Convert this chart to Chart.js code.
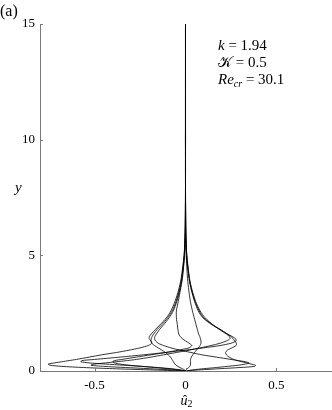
<!DOCTYPE html>
<html>
<head>
<meta charset="utf-8">
<script src="https://cdn.jsdelivr.net/npm/chart.js@4.4.1/dist/chart.umd.min.js"></script>
<style>
  html, body { margin: 0; padding: 0; background: #fff; }
  #wrap { width: 332px; height: 410px; }
</style>
</head>
<body>
<div id="wrap"><canvas id="profileChart"></canvas></div>
<script>
// wall-normal positions shared by every profile
const yLevels = [0, 0.05, 0.1, 0.15, 0.2, 0.25, 0.3, 0.35, 0.4, 0.45, 0.5, 0.6, 0.7, 0.8, 0.9, 1.0,
  1.1, 1.2, 1.3, 1.4, 1.5, 1.6, 1.8, 2.0, 2.3, 2.6, 3.0, 3.5, 4.0, 5.0, 6.0, 8, 15];

// u2 profiles (one value per y level)
const profileA = [0, -0.2, -0.4, -0.56, -0.68, -0.745, -0.755, -0.72, -0.68, -0.64, -0.6, -0.53, -0.46, -0.38, -0.31, -0.25,
  -0.205, -0.185, -0.19, -0.2, -0.198, -0.188, -0.165, -0.14, -0.105, -0.08, -0.058, -0.038, -0.024, -0.008, -0.002, 0, 0];
const profileB = [0, -0.005, -0.018, -0.03, -0.042, -0.052, -0.058, -0.063, -0.067, -0.07, -0.074, -0.082, -0.095, -0.11, -0.13, -0.15,
  -0.17, -0.185, -0.19, -0.188, -0.183, -0.175, -0.155, -0.13, -0.098, -0.073, -0.052, -0.034, -0.021, -0.007, -0.002, 0, 0];
const profileC = [0, 0.04, 0.1, 0.17, 0.23, 0.29, 0.33, 0.35, 0.33, 0.29, 0.25, 0.17, 0.09, 0.03, -0.03, -0.08,
  -0.12, -0.15, -0.165, -0.17, -0.168, -0.16, -0.142, -0.12, -0.09, -0.067, -0.048, -0.031, -0.019, -0.006, -0.001, 0, 0];
const profileD = [0, -0.03, -0.08, -0.15, -0.24, -0.34, -0.44, -0.53, -0.575, -0.57, -0.5, -0.36, -0.23, -0.11, 0.0, 0.1,
  0.19, 0.25, 0.278, 0.275, 0.255, 0.23, 0.19, 0.15, 0.1, 0.075, 0.053, 0.034, 0.021, 0.007, 0.002, 0, 0];
const profileE = [0, -0.08, -0.2, -0.33, -0.45, -0.52, -0.5, -0.44, -0.38, -0.32, -0.27, -0.19, -0.12, -0.05, 0.02, 0.08,
  0.14, 0.19, 0.225, 0.245, 0.24, 0.225, 0.185, 0.15, 0.108, 0.08, 0.056, 0.036, 0.022, 0.007, 0.002, 0, 0];
const profileF = [0, 0.08, 0.19, 0.3, 0.38, 0.385, 0.36, 0.335, 0.31, 0.285, 0.265, 0.24, 0.225, 0.22, 0.23, 0.255,
  0.278, 0.28, 0.27, 0.262, 0.248, 0.23, 0.19, 0.145, 0.095, 0.07, 0.05, 0.032, 0.019, 0.006, 0.001, 0, 0];
const profileG = [0, -0.04, -0.1, -0.17, -0.24, -0.31, -0.36, -0.39, -0.4, -0.39, -0.35, -0.27, -0.19, -0.11, -0.04, 0.02,
  0.035, 0.02, 0.0, -0.018, -0.03, -0.037, -0.042, -0.045, -0.05, -0.05, -0.04, -0.028, -0.017, -0.005, -0.001, 0, 0];
const profileH = [0, 0.004, 0.01, 0.018, 0.023, 0.027, 0.028, 0.028, 0.027, 0.027, 0.028, 0.032, 0.04, 0.05, 0.06, 0.07,
  0.08, 0.085, 0.085, 0.082, 0.078, 0.072, 0.065, 0.058, 0.048, 0.038, 0.027, 0.018, 0.011, 0.004, 0.001, 0, 0];

const profiles = [profileA, profileB, profileC, profileD, profileE, profileF, profileG, profileH];

const xTicks = [-0.5, 0, 0.5];
const yTicks = [0, 5, 10, 15];

const serif = '"Liberation Serif", "DejaVu Serif", serif';
const axisColor = '#7a7a7a';

// small inward ticks, panel label, axis titles and parameter text
const extras = {
  id: 'extras',
  afterDraw(chart) {
    const ctx = chart.ctx;
    const xs = chart.scales.x;
    const ys = chart.scales.y;
    const area = chart.chartArea;
    ctx.save();
    ctx.strokeStyle = axisColor;
    ctx.lineWidth = 1;
    xTicks.forEach(v => {
      const px = Math.round(xs.getPixelForValue(v)) + 0.5;
      ctx.beginPath();
      ctx.moveTo(px, area.bottom);
      ctx.lineTo(px, area.bottom - 3);
      ctx.stroke();
    });
    yTicks.forEach(v => {
      const py = Math.round(ys.getPixelForValue(v)) + 0.5;
      ctx.beginPath();
      ctx.moveTo(area.left, py);
      ctx.lineTo(area.left + 3, py);
      ctx.stroke();
    });

    ctx.fillStyle = '#000';
    ctx.textBaseline = 'alphabetic';
    ctx.textAlign = 'left';

    // writes a run of pieces one after the other
    const run = (x, y, pieces) => {
      pieces.forEach(p => {
        ctx.font = p.font;
        ctx.fillText(p.text, x, y + (p.dy || 0));
        x += ctx.measureText(p.text).width;
      });
    };

    run(0, 16, [{ text: '(a)', font: '16px ' + serif }]);

    const it = 'italic 15px ' + serif;
    const up = '15px ' + serif;
    const sub = 'italic 10px ' + serif;
    run(218, 50, [{ text: 'k', font: it }, { text: ' = 1.94', font: up }]);
    run(218, 67, [{ text: '\u{1D4A6}', font: up }, { text: ' = 0.5', font: up }]);
    run(218, 84, [{ text: 'Re', font: it }, { text: 'cr', font: sub, dy: 3 }, { text: ' = 30.1', font: up }]);

    run(15, 192, [{ text: 'y', font: 'italic 15px ' + serif }]);

    // u with a hat and subscript 2
    const cx = xs.getPixelForValue(0) - 5;
    ctx.font = 'italic 14px ' + serif;
    const uw = ctx.measureText('u').width;
    ctx.fillText('u', cx, 405);
    ctx.font = '13px ' + serif;
    ctx.textAlign = 'center';
    ctx.fillText('\u02C6', cx + uw / 2 + 1, 404);
    ctx.textAlign = 'left';
    ctx.font = '10px ' + serif;
    ctx.fillText('2', cx + uw, 407);
    ctx.restore();
  }
};

const datasets = profiles.map(xs => ({
  data: yLevels.map((y, i) => ({ x: xs[i], y: y })),
  showLine: true,
  borderColor: '#000',
  borderWidth: 0.8,
  pointRadius: 0,
  tension: 0.25,
  fill: false
}));

new Chart(document.getElementById('profileChart'), {
  type: 'scatter',
  data: { datasets: datasets },
  options: {
    responsive: true,
    maintainAspectRatio: false,
    animation: false,
    layout: { padding: { top: 24, right: 1, left: 0, bottom: 0 } },
    plugins: { legend: { display: false }, tooltip: { enabled: false } },
    scales: {
      x: {
        type: 'linear',
        min: -0.8,
        max: 0.8,
        afterBuildTicks: s => { s.ticks = xTicks.map(v => ({ value: v })); },
        afterFit: s => { s.height = 39; },
        grid: { display: false, drawTicks: false },
        border: { display: true, color: axisColor, width: 1 },
        ticks: { color: '#000', font: { family: serif, size: 13 }, padding: 7, maxRotation: 0 }
      },
      y: {
        type: 'linear',
        min: 0,
        max: 15,
        afterBuildTicks: s => { s.ticks = yTicks.map(v => ({ value: v })); },
        afterFit: s => { s.width = 40; },
        grid: { display: false, drawTicks: false },
        border: { display: true, color: axisColor, width: 1 },
        ticks: { color: '#000', font: { family: serif, size: 13 }, padding: 5 }
      }
    }
  },
  plugins: [extras]
});
</script>
</body>
</html>
